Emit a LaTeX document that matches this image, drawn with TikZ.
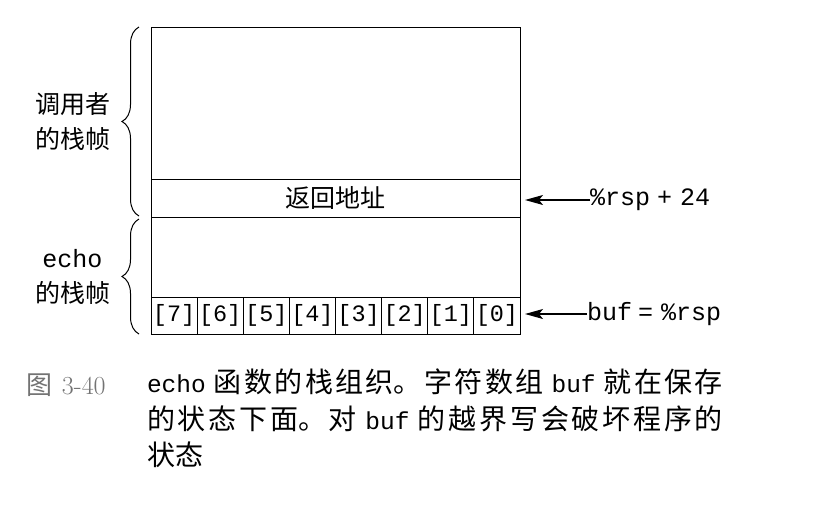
\documentclass[tikz,border=0pt]{standalone}
\usepackage{fontspec}
\setmonofont{Liberation Mono}
\newfontfamily\cjk{Noto Sans CJK SC}
\newcommand\tw[1]{{\ttfamily\fontsize{24.5}{36.5}\selectfont #1}}
\XeTeXlinebreaklocale "zh"
\XeTeXlinebreakskip=0pt plus 4pt
\usetikzlibrary{positioning,arrows.meta,decorations.pathreplacing}

\begin{document}
\begin{tikzpicture}[x=1pt,y=-1pt,line width=1pt,
  >={Stealth[length=18pt,width=10pt,inset=4pt]},
  every node/.style={inner sep=0pt,outer sep=0pt},
  frame/.style={draw,minimum width=369pt,anchor=north west},
  cell/.style={draw,minimum width=46.125pt,minimum height=37pt,
    font=\ttfamily\fontsize{23.5}{23.5}\selectfont},
  side/.style={align=center,font=\cjk\fontsize{25}{35}\selectfont},
  ptr/.style={anchor=west,font=\ttfamily\fontsize{25}{25}\selectfont},
  brc/.style={decorate,decoration={brace,amplitude=17pt}}]

\useasboundingbox (0,0) rectangle (836,509);

% the two frames
\node[frame,minimum height=152pt] (caller) at (151,27) {};
\node[frame,minimum height=38pt] (ret) at (151,179) {\cjk\fontsize{25}{25}\selectfont 返回地址};
\node[frame,minimum height=80pt] (local) at (151,217) {};

% buf[7] .. buf[0]
\node[cell,anchor=north west] (c7) at (151,297) {[7]};
\foreach \i [evaluate=\i as \j using int(\i+1)] in {6,...,0}
  \node[cell,right=0pt of c\j] (c\i) {[\i]};

\draw[brc] ([xshift=-12pt,yshift=1pt]ret.south west) -- ([xshift=-12pt]caller.north west)
  node[side,midway,left=29pt] (callerlbl) {调用者\\的栈帧};
\draw[brc] ([xshift=-12pt]c7.south west) -- ([xshift=-12pt,yshift=-2pt]local.north west)
  node[side,midway,left=29pt] (echolbl) {{\ttfamily echo}\\的栈帧};

% stack pointer
\node[ptr] (retptr) at (590,200) {\%rsp\hspace{7pt}+\hspace{8pt}24};
\node[ptr] (bufptr) at (587,314) {buf\hspace{6pt}=\hspace{8pt}\%rsp};
\draw[line width=1.2pt,->,shorten >=5pt] (retptr.west) -- (retptr.west -| ret.east);
\draw[line width=1.2pt,->,shorten >=5pt] (bufptr.west) -- (bufptr.west -| c0.east);

% caption
\node[anchor=west,text=black!55,font=\fontsize{26}{26}\selectfont] (figno) at (27,385)
  {{\cjk 图}\hspace{9pt}3-40};
\node[anchor=north west,text width=576pt,align=justify,
  font=\cjk\fontsize{28}{36.5}\selectfont] (caption) at (147,369)
  {\parindent=0pt \tw{echo} 函数的栈组织。字符数组 \tw{buf} 就在保存\linebreak
   的状态下面。对 \tw{buf} 的越界写会破坏程序的\linebreak
   状态\par};
\end{tikzpicture}
\end{document}
